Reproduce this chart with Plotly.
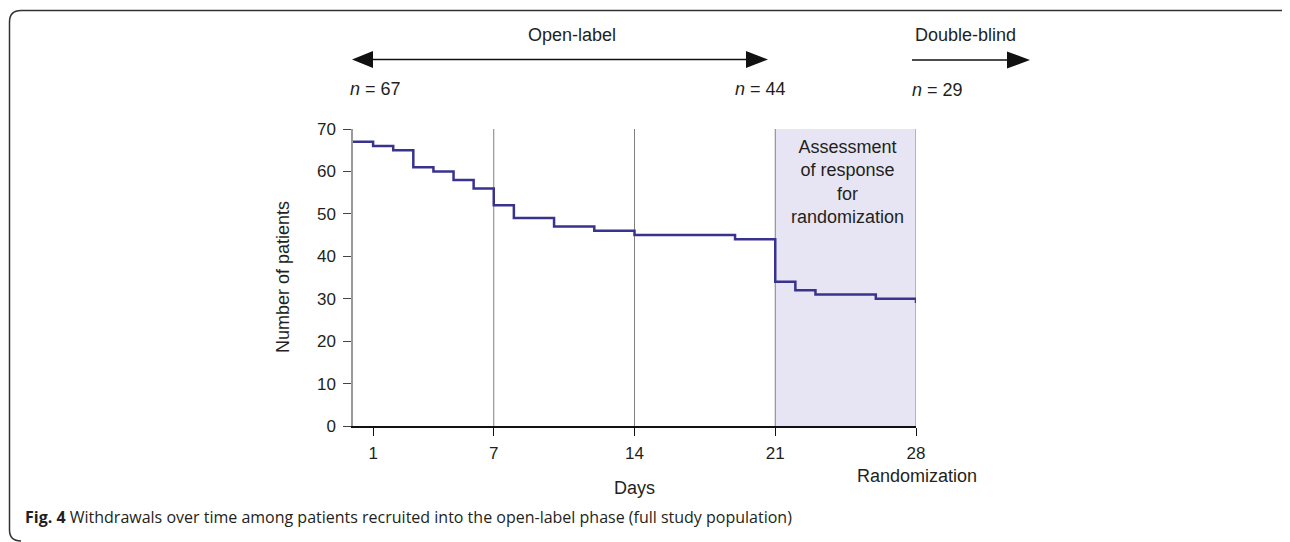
import plotly.graph_objects as go

# ---- data ----
days = [0, 1, 2, 3, 4, 5, 6, 7, 8, 10, 12, 14, 19, 21, 22, 23, 26, 28]
patients = [67, 66, 65, 61, 60, 58, 56, 52, 49, 47, 46, 45, 44, 34, 32, 31, 30, 29]
x_ticks = [1, 7, 14, 21, 28]
x_ticklabels = ["1", "7", "14", "21", "28"]
y_ticks = [0, 10, 20, 30, 40, 50, 60, 70]
phase_lines = [7, 14, 21, 28]
assess_start, assess_end = 21, 28

OFF = 8  # page body margin
W_FIG, H_FIG = 1290 - OFF, 542 - OFF
L, R, T, B = 353, 916, 129, 426
PW, PH = R - L, B - T


def px(x):
    return (x - L) / PW


def py(y):
    return (B - y) / PH


FONT = "Liberation Sans, Arial, sans-serif"
TXT = "#231f20"

fig = go.Figure()
fig.add_trace(go.Scatter(
    x=days, y=patients, mode="lines", line=dict(shape="hv", color="#38338e", width=2.5),
    hoverinfo="skip", showlegend=False, cliponaxis=False,
))

shapes = []
shapes.append(dict(type="rect", xref="x", yref="y", x0=assess_start, x1=assess_end, y0=0, y1=70,
                   fillcolor="#e7e5f4", line=dict(width=0), layer="below"))
for d in phase_lines:
    shapes.append(dict(type="line", xref="x", yref="y", x0=d, x1=d, y0=0, y1=70,
                       line=dict(color="#808080", width=1), layer="below"))


def tri(tip_x, base_x, y, half):
    return (f"M {px(tip_x)},{py(y)} L {px(base_x)},{py(y - half)} "
            f"L {px(base_x)},{py(y + half)} Z")


shapes.append(dict(type="line", xref="paper", yref="paper", x0=px(372), x1=px(748), y0=py(59.5), y1=py(59.5),
                   line=dict(color="#111", width=1.5)))
shapes.append(dict(type="path", xref="paper", yref="paper", path=tri(352, 373, 59.5, 8.5),
                   fillcolor="#111", line=dict(width=0)))
shapes.append(dict(type="path", xref="paper", yref="paper", path=tri(768, 746, 59.5, 8.5),
                   fillcolor="#111", line=dict(width=0)))
shapes.append(dict(type="line", xref="paper", yref="paper", x0=px(912), x1=px(1009), y0=py(60), y1=py(60),
                   line=dict(color="#111", width=1.5)))
shapes.append(dict(type="path", xref="paper", yref="paper", path=tri(1030, 1007, 60, 8.5),
                   fillcolor="#111", line=dict(width=0)))
frame = (f"M {px(21)},{py(541)} Q {px(9.5)},{py(541)} {px(9.5)},{py(530)} L {px(9.5)},{py(22)} "
         f"Q {px(9.5)},{py(10.5)} {px(21)},{py(10.5)} "
         f"L {px(1284)},{py(10.5)} Q {px(1290)},{py(10.5)} {px(1293)},{py(14)}")
shapes.append(dict(type="path", xref="paper", yref="paper", path=frame,
                   line=dict(color="#333", width=1.5)))

ann = []


def text(x, y, s, size=18, **kw):
    ann.append(dict(xref="paper", yref="paper", x=px(x), y=py(y), text=s, showarrow=False,
                    font=dict(family=FONT, size=size, color=TXT), xanchor=kw.pop("xanchor", "center"),
                    yanchor=kw.pop("yanchor", "middle"), **kw))


text(572, 35, "Open-label")
text(965, 35, "Double-blind")
text(375, 89, "<i>n</i> = 67")
text(760, 89, "<i>n</i> = 44")
text(937, 90, "<i>n</i> = 29")
text(847, 182, "Assessment<br>of response<br>for<br>randomization")
text(917, 476, "Randomization")
text(634, 488, "Days")
text(283, 277, "Number of patients", textangle=-90)
ann.append(dict(xref="paper", yref="paper", x=px(23), y=py(517), xanchor="left", yanchor="middle",
                text="<b>Fig. 4</b> Withdrawals over time among patients recruited into the open-label phase (full study population)",
                showarrow=False, font=dict(family="Open Sans, sans-serif", size=16, color=TXT)))

fig.update_layout(
    width=W_FIG, height=H_FIG,
    margin=dict(l=L - OFF, r=1290 - R, t=T - OFF, b=542 - B),
    paper_bgcolor="white", plot_bgcolor="white",
    shapes=shapes, annotations=ann, showlegend=False,
    xaxis=dict(range=[0, 28], tickvals=x_ticks, ticktext=x_ticklabels, showgrid=False, zeroline=False,
               showline=True, linecolor="#111", linewidth=1.5, ticks="outside", ticklen=8, tickcolor="#111",
               tickwidth=1.2, ticklabelstandoff=3, tickfont=dict(family=FONT, size=17, color=TXT)),
    yaxis=dict(range=[0, 70], tickvals=y_ticks, showgrid=False, zeroline=False,
               showline=True, linecolor="#9a9a9a", linewidth=1.5, ticks="outside", ticklen=8,
               tickcolor="#444", tickwidth=1.2, ticklabelstandoff=4,
               tickfont=dict(family=FONT, size=17, color=TXT)),
)

fig.write_html("out.html")
